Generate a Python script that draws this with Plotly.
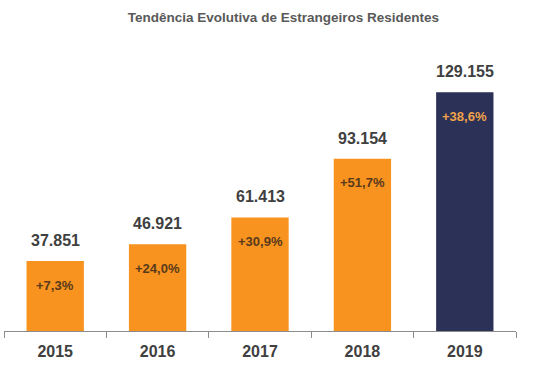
import plotly.graph_objects as go

years = ["2015", "2016", "2017", "2018", "2019"]
residents = [37851, 46921, 61413, 93154, 129155]
value_labels = ["37.851", "46.921", "61.413", "93.154", "129.155"]
growth_labels = ["+7,3%", "+24,0%", "+30,9%", "+51,7%", "+38,6%"]

bar_colors = ["#F7931E", "#F7931E", "#F7931E", "#F7931E", "#2B3157"]
growth_colors = ["#5A3A1C", "#5A3A1C", "#5A3A1C", "#5A3A1C", "#F0A24A"]

fig = go.Figure(go.Bar(
    x=years, y=residents, marker=dict(color=bar_colors, line=dict(width=0)),
    width=0.56, hoverinfo="skip",
))

font_family = "Liberation Sans, Arial, sans-serif"
for i, (v, lab, g, gc) in enumerate(zip(residents, value_labels, growth_labels, growth_colors)):
    fig.add_annotation(x=i, y=v, text=f"<b>{lab}</b>", showarrow=False,
                       yanchor="bottom", yshift=10,
                       font=dict(size=16, color="#404040", family=font_family))
    fig.add_annotation(x=i, y=v, text=f"<b>{g}</b>", showarrow=False,
                       yanchor="middle", yshift=-24,
                       font=dict(size=13, color=gc, family=font_family))

fig.update_layout(
    width=545, height=368,
    margin=dict(l=4, r=29, t=61, b=37, autoexpand=False),
    paper_bgcolor="white", plot_bgcolor="white",
    title=dict(text="<b>Tendência Evolutiva de Estrangeiros Residentes</b>",
               x=0.52, xanchor="center", y=0.953, yanchor="middle",
               font=dict(size=13.5, color="#595959", family=font_family)),
    showlegend=False,
    xaxis=dict(type="category", range=[-0.5, 4.5], automargin=False,
               showline=True, linecolor="#8c8c8c", linewidth=1,
               ticks="outside", tickson="boundaries", ticklen=6, tickcolor="#8c8c8c",
               ticklabelstandoff=6,
               tickfont=dict(size=16, color="#404040", family=font_family, weight="bold"),
               showgrid=False, zeroline=False),
    yaxis=dict(range=[0, 146000], visible=False, showgrid=False, zeroline=False),
)

fig.write_html("out.html", config={"displayModeBar": False},
               post_script="document.body.style.margin='0';document.body.style.overflow='hidden';")
